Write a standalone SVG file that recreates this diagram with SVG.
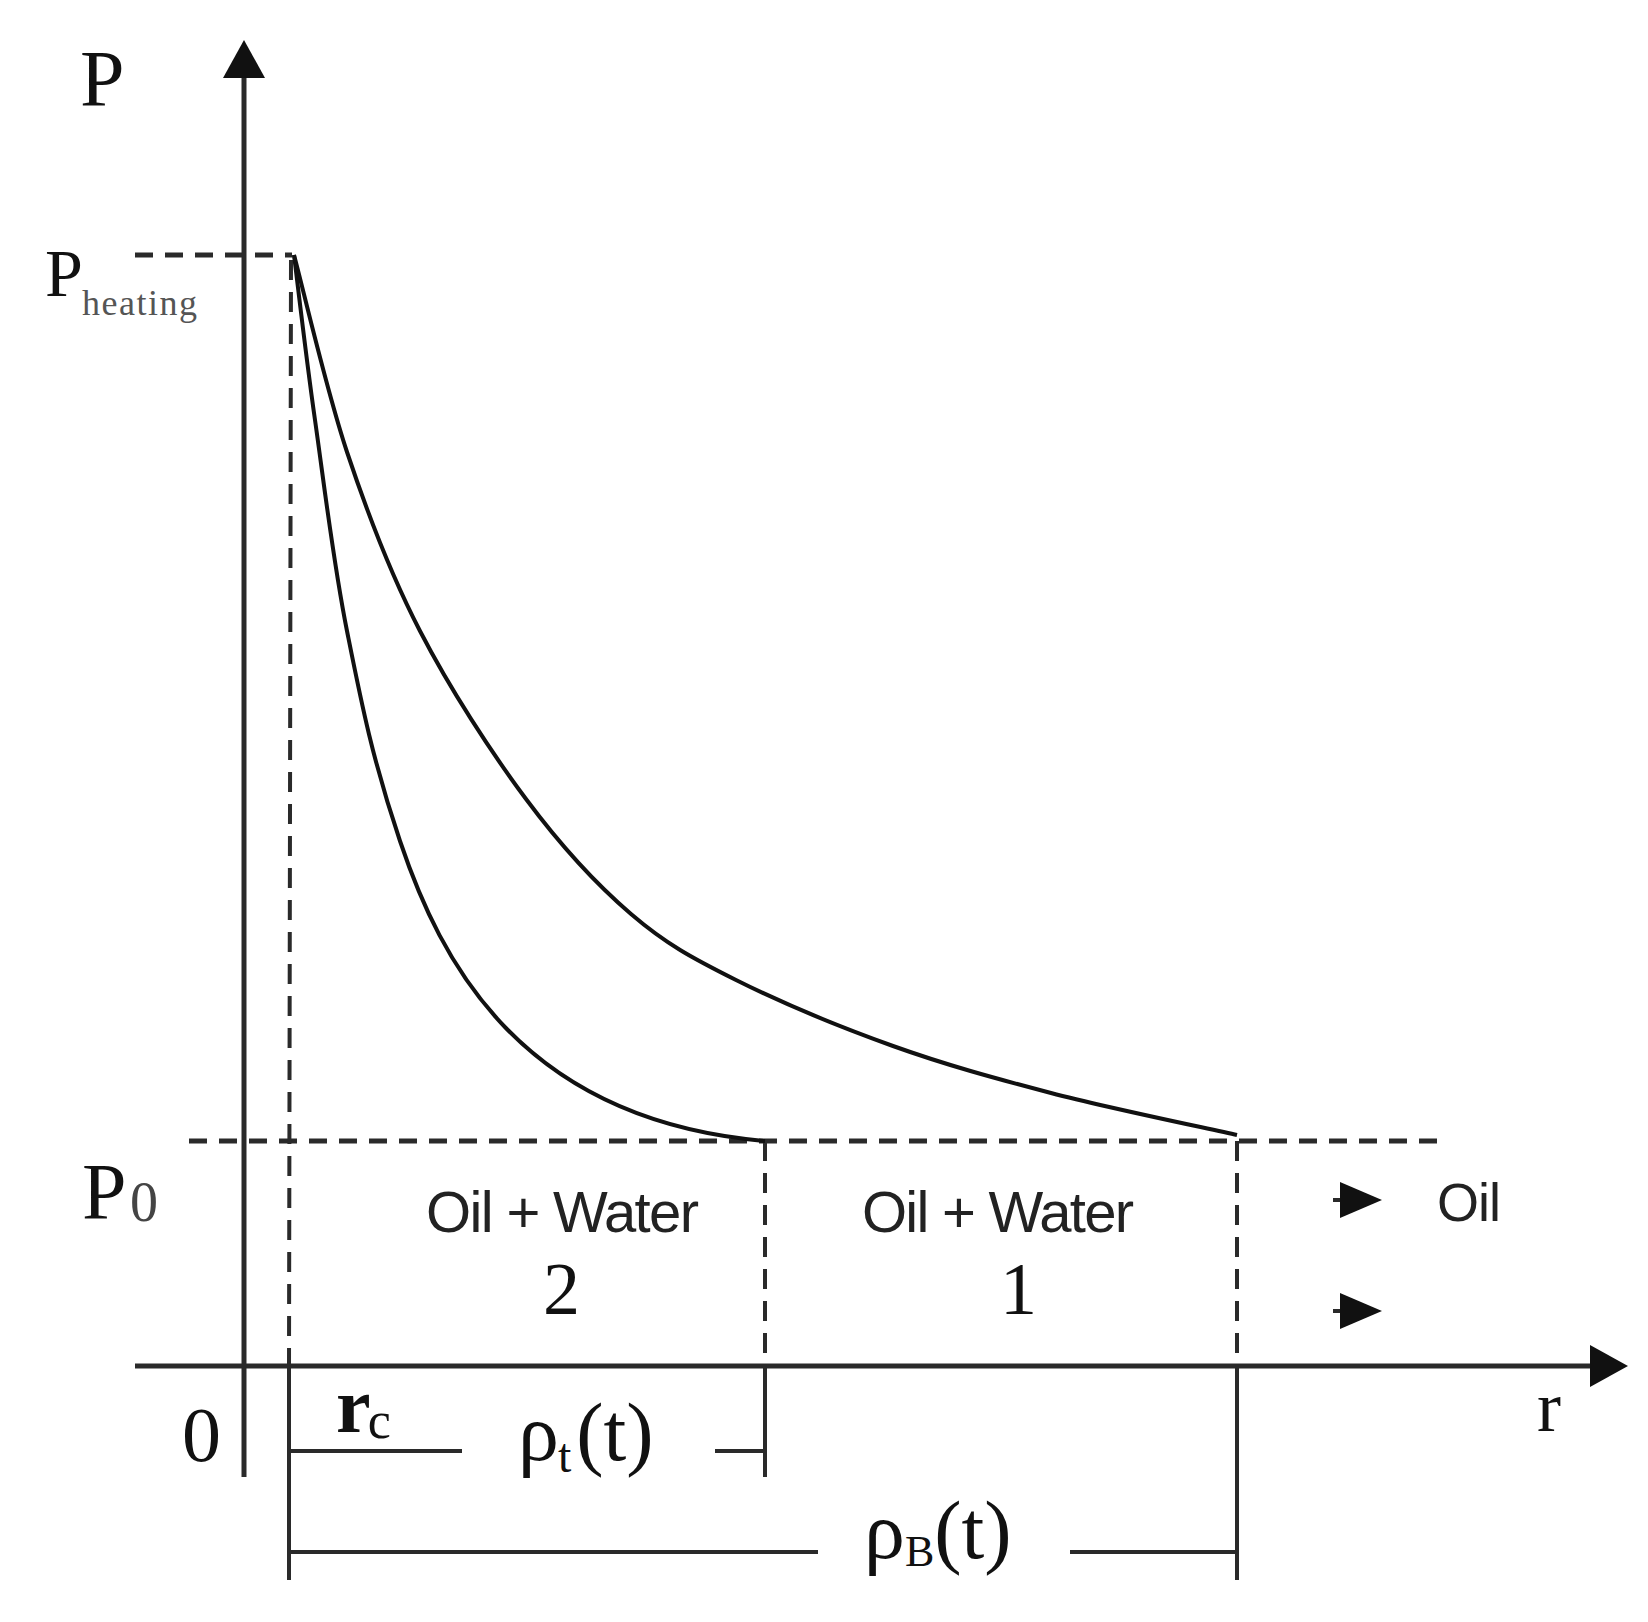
<svg xmlns="http://www.w3.org/2000/svg" width="1648" height="1622" viewBox="0 0 1648 1622">
<style>
.axis{stroke:#2a2a2a;stroke-width:5;fill:none}
.dash{stroke:#2a2a2a;stroke-width:5;fill:none;stroke-dasharray:18 12}
.dashv{stroke:#2a2a2a;stroke-width:4;fill:none;stroke-dasharray:20 12}
.solid{stroke:#2a2a2a;stroke-width:4;fill:none}
.curve{stroke:#111;stroke-width:4;fill:none}
.serif{font-family:"Liberation Serif","Times New Roman",serif;fill:#111}
.sans{font-family:"Liberation Sans",Arial,sans-serif;fill:#222}
</style>
<rect width="1648" height="1622" fill="#fff"/>
<g id="connectors">
  <line class="axis" x1="244" y1="1477" x2="244" y2="70"/>
  <polygon points="244,40 223,78 265,78" fill="#111"/>
  <line class="axis" x1="135" y1="1366" x2="1600" y2="1366"/>
  <polygon points="1628,1366 1590,1345 1590,1387" fill="#111"/>
  <line class="dash" x1="135" y1="255" x2="292" y2="255"/>
  <line class="dash" x1="189" y1="1141" x2="1440" y2="1141"/>
  <line class="dashv" x1="291" y1="260" x2="289" y2="1366"/>
  <line class="dashv" x1="765" y1="1141" x2="765" y2="1366"/>
  <line class="dashv" x1="1237" y1="1141" x2="1237" y2="1366"/>
  <line class="solid" x1="289" y1="1366" x2="289" y2="1580"/>
  <line class="solid" x1="765" y1="1366" x2="765" y2="1477"/>
  <line class="solid" x1="1237" y1="1366" x2="1237" y2="1580"/>
  <line class="solid" x1="289" y1="1451" x2="462" y2="1451"/>
  <line class="solid" x1="715" y1="1451" x2="765" y2="1451"/>
  <line class="solid" x1="289" y1="1552" x2="818" y2="1552"/>
  <line class="solid" x1="1070" y1="1552" x2="1237" y2="1552"/>
  <path class="curve" d="M294,255 C303,288 326,389 347,452 C368,515 390,573 420,631 C450,689 491,752 526,799 C561,846 596,884 631,914 C666,944 692,958 736,980 C780,1002 840,1027 893,1046 C946,1065 994,1078 1051,1093 C1108,1108 1206,1128 1237,1135"/>
  <path class="curve" d="M294,255 C297.5,282.5 306,357 315,420 C324,483 333,561 347,631 C361,701 372,758 400,841 C440,960 520,1120 765,1141"/>
  <line class="solid" x1="1333" y1="1200" x2="1345" y2="1200"/>
  <polygon points="1382,1200 1340,1182 1340,1218" fill="#111"/>
  <line class="solid" x1="1333" y1="1311" x2="1345" y2="1311"/>
  <polygon points="1382,1311 1340,1293 1340,1329" fill="#111"/>
</g>
<g id="label-P"><text class="serif" x="80" y="106" font-size="80">P</text></g>
<g id="label-Pheating"><text class="serif" x="45" y="296" font-size="68">P<tspan x="82" y="315" font-size="36" textLength="115" fill="#555">heating</tspan></text></g>
<g id="label-P0"><text class="serif" x="82" y="1219" font-size="80">P<tspan x="130" y="1221" font-size="56" fill="#444">0</tspan></text></g>
<g id="label-origin"><text class="serif" x="182" y="1461" font-size="78">0</text></g>
<g id="label-r"><text class="serif" x="1537" y="1431" font-size="72">r</text></g>
<g id="label-rc"><text class="serif" x="336" y="1432" font-size="78"><tspan font-weight="bold">r</tspan><tspan dx="-3" dy="6" font-size="52">c</tspan></text></g>
<g id="label-rhot"><text class="serif" x="518" y="1460" font-size="82">ρ<tspan dx="-1" dy="12" font-size="48">t</tspan><tspan dx="5" dy="-12">(t)</tspan></text></g>
<g id="label-rhoB"><text class="serif" x="864" y="1558" font-size="82">ρ<tspan dx="0" dy="8" font-size="44">B</tspan><tspan dx="0" dy="-8">(t)</tspan></text></g>
<g id="zone-2"><text class="sans" x="426" y="1232" font-size="58" textLength="273">Oil + Water</text><text class="serif" x="543" y="1314" font-size="74">2</text></g>
<g id="zone-1"><text class="sans" x="862" y="1232" font-size="58" textLength="272">Oil + Water</text><text class="serif" x="1000" y="1314" font-size="74">1</text></g>
<g id="label-oil"><text class="sans" x="1437" y="1221" font-size="54" textLength="64">Oil</text></g>
</svg>
